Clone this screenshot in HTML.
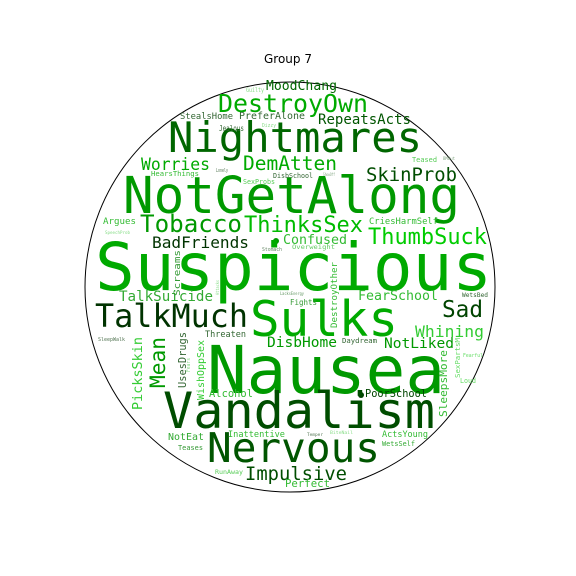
<!DOCTYPE html>
<html><head><meta charset="utf-8"><style>
html,body{margin:0;padding:0;background:#fff;width:576px;height:576px;overflow:hidden}
svg text{font-family:"DejaVu Sans Mono","Liberation Mono",monospace}
</style></head><body>
<svg id="chart" width="576" height="576" viewBox="0 0 576 576" xmlns="http://www.w3.org/2000/svg">
<rect width="576" height="576" fill="#fff"/>
<text x="288" y="63" text-anchor="middle" font-size="12" style="font-family:'DejaVu Sans','Liberation Sans',sans-serif">Group 7</text>
<circle cx="290" cy="287" r="205" fill="none" stroke="#000" stroke-width="1"/>
<circle cx="276" cy="241" r="3" fill="#009900"/>
<circle cx="361" cy="395" r="3" fill="#004400"/>
<g id="words"></g>
</svg>
<script>
// word labels, font sizes (weights), colors
const words = ["Suspicious","NotGetAlong","Nightmares","Nausea","Vandalism","Sulks","Nervous","TalkMuch","DestroyOwn","Tobacco","ThinksSex","ThumbSuck","Sad","Mean","DemAtten","SkinProb","Impulsive","Worries","BadFriends","Whining","DisbHome","NotLiked","RepeatsActs","TalkSuicide","FearSchool","Confused","MoodChang","PicksSkin","SleepsMore","Alcohol","Perfect","PoorSchool","UsesDrugs","WishOppSex","PreferAlone","NotEat","StealsHome","Argues","Screams","DestroyOther","CriesHarmSelf","Inattentive","Threaten","ActsYoung","Fights","Jealous","HearsThings","Teases","Teased","WetsSelf","Daydream","DisbSchool","SexProbs","SexPartsM","Overweight","Loud","RunAway","WetsBed","Guilty","Fearful","Dizzy","Stomach","SleepWalk","Lonely","Fears","Temper","BiteNail","SpeechProb","ShowOff","BMOut","LacksEnergy","Attacks"];
const sizes = [66,51,42,66,50,49,41,32,25,24,22,22,23,21,19.5,19,19,16.4,16,16,14.5,14.5,14,14,13.3,13,13,13.5,11,10.5,10.7,10.3,10.4,10,10,10,9,9,9,9,8.8,8.6,8.5,8.5,7.5,7.5,7.3,7,7,7,7.3,6.7,6.7,7.4,6,7,6,6,6,5.5,5,5,5,5,5,4.5,4.5,4,4,4,4,4];
const colors = ["#00aa00","#009900","#006600","#009900","#004d00","#00aa00","#005500","#003300","#00aa00","#009900","#00bb00","#00cc00","#004400","#009900","#00aa00","#004d00","#004d00","#00aa00","#003300","#33cc33","#009900","#009900","#005500","#33aa33","#33bb33","#33bb33","#006600","#33cc33","#33bb33","#33bb33","#33bb33","#004400","#336633","#33cc33","#336633","#33aa33","#336633","#33bb33","#339933","#33bb33","#33bb33","#33bb33","#336633","#33bb33","#339933","#336633","#33bb33","#339933","#55cc55","#33aa33","#336633","#336633","#55cc55","#66dd66","#66cc66","#66dd66","#55cc55","#336633","#88dd88","#66dd66","#88dd88","#668866","#557755","#557755","#88dd88","#557755","#88dd88","#88dd88","#88aa88","#88aa88","#669966","#88dd88"];
// layout: [x, baselineY, length, vertical(1) ]
const layout = [[95,290,397,0],[123,213,337,0],[168,152,254,0],[207,393,238,0],[163,428,272,0],[250,336,148,0],[207,462,173,0],[95,327,153,0],[218,112,150,0],[140,232,102,0],[244,232,119,0],[368,244,119,0],[442,317,41,0],[165,388,51,1],[243,170,94,0],[366,181,91,0],[245,480,102,0],[141,170,69,0],[152,248,97,0],[415,337,69,0],[267,347,70,0],[384,348,70,0],[318,124,93,0],[119,301,94,0],[358,300,80,0],[283,244,64,0],[266,90,71,0],[142,410,73,1],[447,417,67,1],[209,397,44,0],[285,487,45,0],[365,397,62,0],[186,388,56,1],[204,400,60,1],[239,119,66,0],[168,440,36,0],[180,119,53,0],[103,224,33,0],[180,296,46,1],[337,328,66,1],[369,224,69,0],[228,437,57,0],[205,337,41,0],[382,437,46,0],[290,305,27,0],[219,131,25,0],[151,176,48,0],[178,450,25,0],[412,162,25,0],[382,446,33,0],[342,343,35,0],[273,178,40,0],[243,184,32,0],[460,378,40,1],[292,249,43,0],[460,383,16,0],[215,474,28,0],[462,297,26,0],[246,92,18,0],[463,357,20,0],[262,127,14,0],[262,251,20,0],[98,341,27,0],[216,172,12,0],[190,372,14,1],[307,436,16,0],[330,434,23,0],[105,234,25,0],[323,176,12,0],[443,160,12,0],[280,295,24,0],[219,295,15,1]];
const g = document.getElementById('words');
const NS = 'http://www.w3.org/2000/svg';
for (let i = 0; i < words.length; i++) {
  const t = document.createElementNS(NS, 'text');
  
  
  const L = layout[i];
  t.setAttribute('font-size', sizes[i]);
  t.setAttribute('fill', colors[i]);
  t.setAttribute('textLength', L[2]);
  t.setAttribute('lengthAdjust', 'spacingAndGlyphs');
  if (L[3]) {
    t.setAttribute('transform', 'translate(' + L[0] + ',' + L[1] + ') rotate(-90)');
    t.setAttribute('x', 0); t.setAttribute('y', 0);
  } else {
    t.setAttribute('x', L[0]); t.setAttribute('y', L[1]);
  }
  t.textContent = words[i];
  g.appendChild(t);
}
</script>
</body></html>
